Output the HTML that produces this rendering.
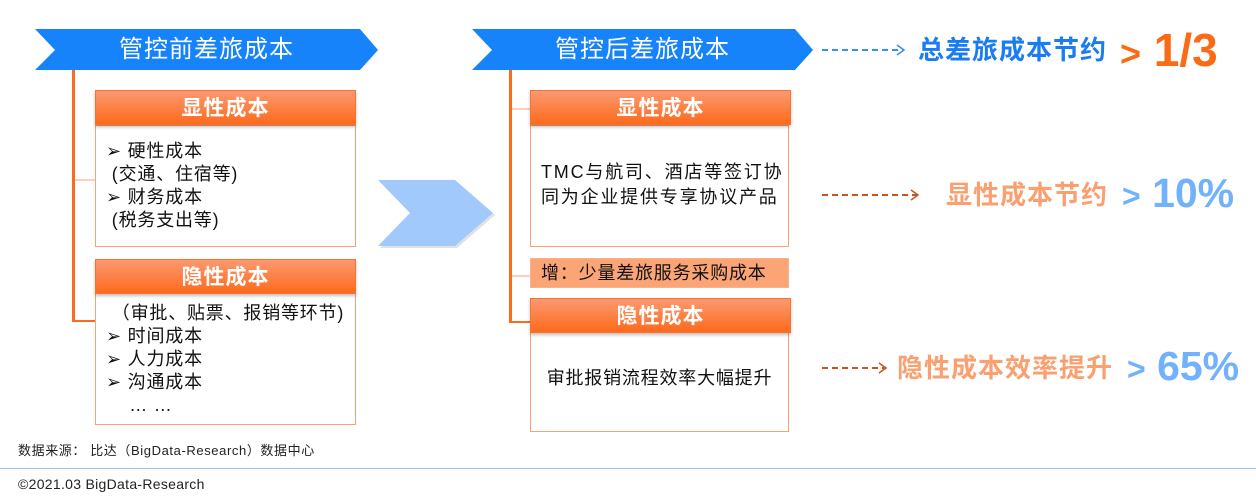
<!DOCTYPE html>
<html><head><meta charset="utf-8"><style>
body{margin:0;width:1256px;height:500px;background:#fff;position:relative;overflow:hidden;font-family:"Liberation Sans","Noto Sans CJK SC",sans-serif;}
.a{position:absolute;}
.hd{position:absolute;height:35px;background:linear-gradient(#fb9970,#fe6a1c);border:1px solid #f5742e;color:#fff;font-weight:bold;font-size:21px;letter-spacing:1px;text-align:center;line-height:35px;box-sizing:border-box;box-shadow:0 2px 3px rgba(0,0,0,.25);}
.bd{position:absolute;border:1px solid #f8a275;box-sizing:border-box;background:#fff;font-size:18px;letter-spacing:0.8px;color:#111;white-space:nowrap;}
.bt{position:absolute;color:#fff;font-size:24px;letter-spacing:1px;text-align:center;line-height:41px;}
</style></head><body>
<svg class="a" style="left:0;top:0" width="1256" height="500">
<polygon points="35,29 360,29 378,50 360,70 35,70 55,50" fill="#1683fb"/>
<polygon points="472,29 795,29 813,50 795,70 472,70 492,50" fill="#1683fb"/>
<polygon points="380,182 457,182 495,215 457,248 380,248 412,215" fill="#aaa" opacity=".35"/>
<polygon points="378,180 455,180 493,213 455,246 378,246 410,213" fill="#a2c9fc"/>
<line x1="73.5" y1="70" x2="73.5" y2="322" stroke="#fc6a1b" stroke-width="3"/>
<line x1="72" y1="321" x2="95" y2="321" stroke="#fc6a1b" stroke-width="2"/>
<line x1="75" y1="180" x2="95" y2="180" stroke="#f8a275" stroke-width="1"/>
<line x1="510.5" y1="70" x2="510.5" y2="322" stroke="#fc6a1b" stroke-width="3"/>
<line x1="509" y1="322" x2="530" y2="322" stroke="#fc6a1b" stroke-width="2"/>
<line x1="512" y1="109" x2="530" y2="109" stroke="#f8a275" stroke-width="1"/>
<line x1="512" y1="276" x2="530" y2="276" stroke="#f8a275" stroke-width="1"/>
<line x1="822" y1="50" x2="904" y2="50" stroke="#3a8ef5" stroke-width="2" stroke-dasharray="6,4"/>
<polyline points="897,45 904,50 897,55" fill="none" stroke="#3a8ef5" stroke-width="1.5"/>
<line x1="822" y1="195" x2="918" y2="195" stroke="#c9541d" stroke-width="2" stroke-dasharray="6,4"/>
<polyline points="911,190 918,195 911,200" fill="none" stroke="#c9541d" stroke-width="1.5"/>
<line x1="822" y1="368" x2="886" y2="368" stroke="#c9541d" stroke-width="2" stroke-dasharray="6,4"/>
<polyline points="879,363 886,368 879,373" fill="none" stroke="#c9541d" stroke-width="1.5"/>
<line x1="0" y1="468.5" x2="1256" y2="468.5" stroke="#a9c4dd" stroke-width="1"/>
</svg>
<div class="bt" style="left:35px;top:29px;width:343px">管控前差旅成本</div>
<div class="bt" style="left:472px;top:29px;width:341px">管控后差旅成本</div>

<div class="bd" style="left:95px;top:125px;width:261px;height:122px;line-height:23px;padding:14px 0 0 10px">➢ 硬性成本<br>&nbsp;(交通、住宿等)<br>➢ 财务成本<br>&nbsp;(税务支出等)</div>
<div class="hd" style="left:95px;top:90px;width:261px">显性成本</div>
<div class="bd" style="left:95px;top:293px;width:261px;height:132px;line-height:23px;padding:8px 0 0 10px">&nbsp;（审批、贴票、报销等环节)<br>➢ 时间成本<br>➢ 人力成本<br>➢ 沟通成本<br>&nbsp;&nbsp;&nbsp;&nbsp;… …</div>
<div class="hd" style="left:95px;top:259px;width:261px">隐性成本</div>

<div class="bd" style="left:530px;top:125px;width:259px;height:122px;line-height:25px;padding:34px 0 0 10px;letter-spacing:1.8px">TMC与航司、酒店等签订协<br>同为企业提供专享协议产品</div>
<div class="hd" style="left:530px;top:90px;width:261px">显性成本</div>
<div class="a" style="left:530px;top:258px;width:259px;height:30px;background:#fba577;border:1px solid #f9b38c;box-sizing:border-box;font-size:18px;letter-spacing:0.8px;line-height:28px;padding-left:10px;color:#111;white-space:nowrap">增：少量差旅服务采购成本</div>
<div class="bd" style="left:530px;top:332px;width:259px;height:100px;line-height:25px;text-align:center;padding-top:33px">审批报销流程效率大幅提升</div>
<div class="hd" style="left:530px;top:298px;width:261px">隐性成本</div>

<div class="a" style="left:918px;top:33px;font-size:26px;letter-spacing:1px;font-weight:bold;color:#1a7cf2;line-height:34px">总差旅成本节约</div>
<div class="a" style="left:1120px;top:24px;font-size:46px;font-weight:bold;color:#fd6a16;line-height:52px;white-space:nowrap"><span style="font-size:36px">&gt;</span> 1/3</div>
<div class="a" style="left:946px;top:178px;font-size:26px;letter-spacing:1px;font-weight:bold;color:#faa070;line-height:34px">显性成本节约</div>
<div class="a" style="left:1122px;top:169px;font-size:41px;font-weight:bold;color:#72b1fb;line-height:48px;white-space:nowrap"><span style="font-size:32px">&gt;</span> 10%</div>
<div class="a" style="left:897px;top:351px;font-size:26px;letter-spacing:1px;font-weight:bold;color:#faa070;line-height:34px;white-space:nowrap">隐性成本效率提升</div>
<div class="a" style="left:1127px;top:342px;font-size:41px;font-weight:bold;color:#72b1fb;line-height:48px;white-space:nowrap"><span style="font-size:32px">&gt;</span> 65%</div>

<div class="a" style="left:18px;top:443px;font-size:13px;letter-spacing:0.6px;color:#222;line-height:16px;white-space:nowrap">数据来源：&nbsp;比达（BigData-Research）数据中心</div>
<div class="a" style="left:18px;top:476px;font-size:14px;letter-spacing:0.3px;color:#222;line-height:16px">©2021.03 BigData-Research</div>
</body></html>
